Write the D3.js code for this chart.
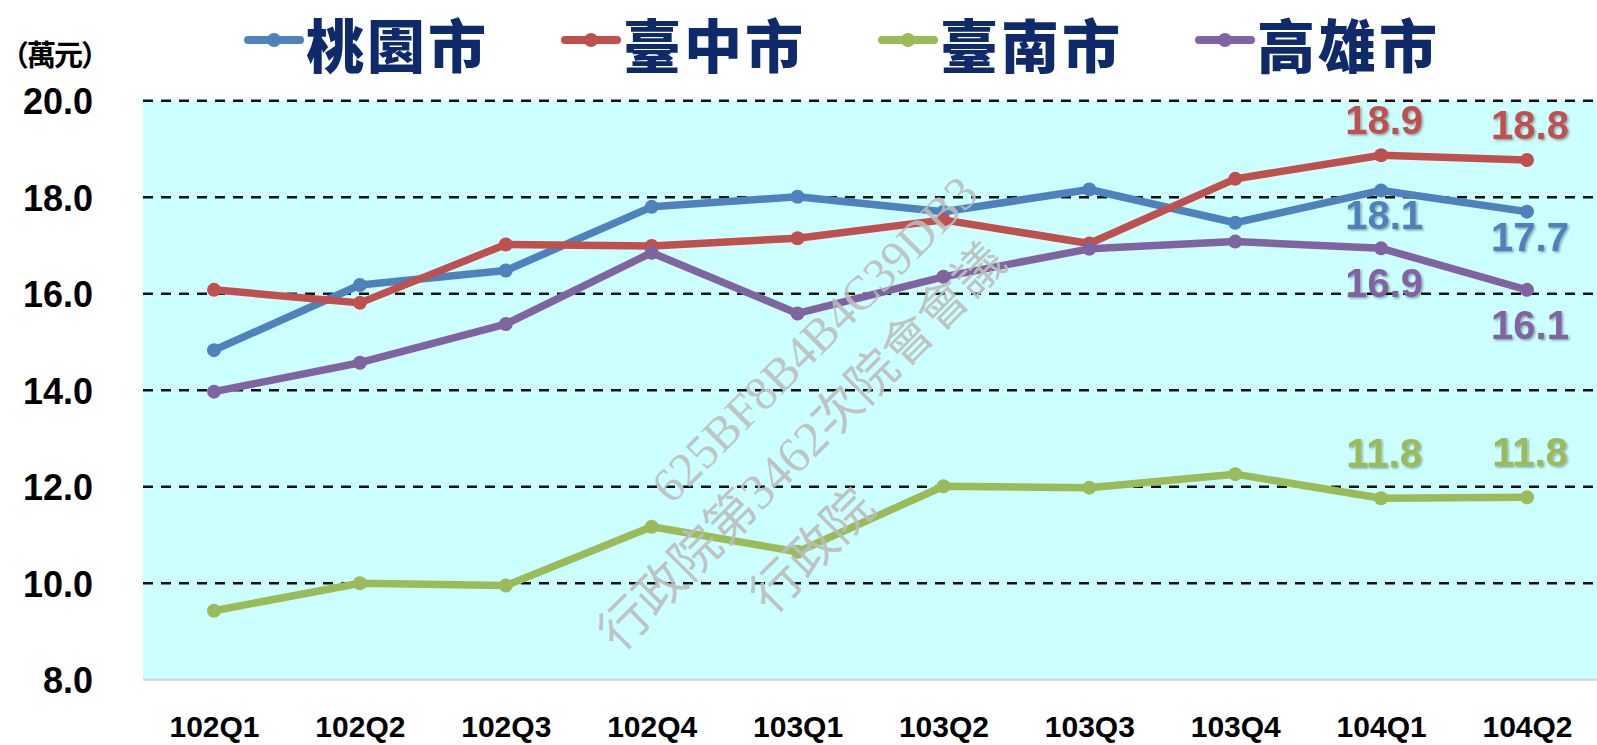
<!DOCTYPE html>
<html>
<head>
<meta charset="utf-8">
<script src="https://cdn.jsdelivr.net/npm/d3@7"></script>
<style>
  html, body { margin: 0; padding: 0; background: #ffffff; }
  #canvas { width: 1597px; height: 745px; }
</style>
</head>
<body>
<div id="canvas"></div>
<script>
"use strict"

/* Data */
let quarters = ["102Q1", "102Q2", "102Q3", "102Q4", "103Q1", "103Q2", "103Q3", "103Q4", "104Q1", "104Q2"];
let taoyuan   = [14.83, 16.18, 16.48, 17.80, 18.01, 17.70, 18.16, 17.47, 18.14, 17.70];
let taichung  = [16.08, 15.81, 17.02, 16.99, 17.15, 17.53, 17.04, 18.38, 18.87, 18.77];
let tainan    = [9.43, 10.00, 9.95, 11.17, 10.65, 12.01, 11.98, 12.26, 11.76, 11.78];
let kaohsiung = [13.97, 14.57, 15.37, 16.85, 15.59, 16.35, 16.93, 17.08, 16.94, 16.08];
let seriesNames = ["桃園市", "臺中市", "臺南市", "高雄市"];
let yTicks = [8, 10, 12, 14, 16, 18, 20];
let unitLabel = "（萬元）";
let watermarkLines = ["625BF8B4B4C39DB3", "行政院第3462次院會會議", "行政院"];

/* Configuration variables: drawing */
let svgWidth = 1597;
let svgHeight = 745;
let plotLeft = 143;
let plotTop = 100.7;
let plotBottom = 679.7;

let colors = ["#4f81bd", "#c0504d", "#9bbb59", "#8064a2"];
// vertical shift of the end labels (from point to label centre)
let labelShift = [25, -35, -45, 35];

let series = [taoyuan, taichung, tainan, kaohsiung].map(function (values, i) {
    return { name: seriesNames[i], values: values, color: colors[i], shift: labelShift[i] };
});

let svg = d3.select("#canvas")
    .append("svg")
    .attr("width", svgWidth)
    .attr("height", svgHeight)
    .style("font-family", "'Liberation Sans', Arial, sans-serif");

let defs = svg.append("defs");
let shadow = defs.append("filter")
    .attr("id", "shadow")
    .attr("x", "-20%").attr("y", "-20%")
    .attr("width", "140%").attr("height", "140%");
shadow.append("feDropShadow")
    .attr("dx", 1.5).attr("dy", 1.5)
    .attr("stdDeviation", 1)
    .attr("flood-color", "#000")
    .attr("flood-opacity", 0.35);

/* Scales */
let xScale = d3.scalePoint()
    .domain(quarters)
    .range([214, 1527]);

let yScale = d3.scaleLinear()
    .domain([8, 20])
    .range([plotBottom, plotTop]);

/* Plot background */
svg.append("rect")
    .attr("x", plotLeft)
    .attr("y", plotTop)
    .attr("width", svgWidth - plotLeft)
    .attr("height", plotBottom - plotTop)
    .attr("fill", "#ccffff");

// light bottom edge
svg.append("line")
    .attr("x1", plotLeft).attr("x2", svgWidth)
    .attr("y1", plotBottom).attr("y2", plotBottom)
    .attr("stroke", "#d4d4d4")
    .attr("stroke-width", 2);

/* Dashed gridlines */
svg.selectAll(".grid")
    .data(yTicks.filter(function (t) { return t > 8; }))
    .join("line")
    .attr("class", "grid")
    .attr("x1", plotLeft)
    .attr("x2", svgWidth)
    .attr("y1", function (d) { return yScale(d); })
    .attr("y2", function (d) { return yScale(d); })
    .attr("stroke", "#111")
    .attr("stroke-width", 2.6)
    .attr("stroke-dasharray", "10 8");

/* Y axis labels */
let yAxis = d3.axisLeft(yScale)
    .tickValues(yTicks)
    .tickFormat(d3.format(".1f"))
    .tickSize(0)
    .tickPadding(0);

let yAxisGroup = svg.append("g")
    .attr("transform", "translate(93,0)")
    .call(yAxis);
yAxisGroup.select(".domain").remove();
yAxisGroup.selectAll("text")
    .attr("font-family", "'Liberation Sans', Arial, sans-serif")
    .attr("font-size", 36)
    .attr("font-weight", "bold")
    .attr("fill", "#000")
    .attr("dy", 13);

/* X axis labels */
let xAxis = d3.axisBottom(xScale)
    .tickSize(0)
    .tickPadding(0);

let xAxisGroup = svg.append("g")
    .attr("transform", "translate(0,737)")
    .call(xAxis);
xAxisGroup.select(".domain").remove();
xAxisGroup.selectAll("text")
    .attr("font-family", "'Liberation Sans', Arial, sans-serif")
    .attr("font-size", 30)
    .attr("font-weight", "bold")
    .attr("fill", "#000")
    .attr("dy", 0)
    .attr("y", 0);

/* Unit label */
svg.append("text")
    .attr("x", 0)
    .attr("y", 66)
    .attr("font-family", "'Noto Sans CJK TC', sans-serif")
    .attr("font-weight", "bold")
    .attr("font-size", 29)
    .attr("letter-spacing", -2)
    .text(unitLabel);

/* Lines and points */
let line = d3.line()
    .x(function (d, i) { return xScale(quarters[i]); })
    .y(function (d) { return yScale(d); });

let seriesGroups = svg.selectAll(".series")
    .data(series)
    .join("g")
    .attr("class", "series");

seriesGroups.append("path")
    .attr("d", function (s) { return line(s.values); })
    .attr("fill", "none")
    .attr("stroke", function (s) { return s.color; })
    .attr("stroke-width", 7.5)
    .attr("stroke-linejoin", "round");

seriesGroups.selectAll("circle")
    .data(function (s) {
        return s.values.map(function (v, i) { return { q: quarters[i], v: v, color: s.color }; });
    })
    .join("circle")
    .attr("cx", function (d) { return xScale(d.q); })
    .attr("cy", function (d) { return yScale(d.v); })
    .attr("r", 7)
    .attr("fill", function (d) { return d.color; });

/* Value labels on the last two quarters */
seriesGroups.selectAll(".value")
    .data(function (s) {
        return s.values.slice(-2).map(function (v, i) {
            return { q: quarters[quarters.length - 2 + i], v: v, color: s.color, shift: s.shift };
        });
    })
    .join("text")
    .attr("class", "value")
    .attr("x", function (d) { return xScale(d.q) + 3; })
    .attr("y", function (d) { return yScale(d.v) + d.shift + 14; })
    .attr("text-anchor", "middle")
    .attr("font-size", 40)
    .attr("font-weight", "bold")
    .attr("fill", function (d) { return d.color; })
    .attr("filter", "url(#shadow)")
    .text(function (d) { return d3.format(".1f")(d.v); });

/* Legend */
let legendX = 245;
let legendSpacing = 317;

let legend = svg.selectAll(".legend")
    .data(series)
    .join("g")
    .attr("class", "legend")
    .attr("transform", function (s, i) { return "translate(" + (legendX + i * legendSpacing) + ",0)"; });

legend.append("line")
    .attr("x1", 3).attr("x2", 55)
    .attr("y1", 40).attr("y2", 40)
    .attr("stroke", function (s) { return s.color; })
    .attr("stroke-width", 8)
    .attr("stroke-linecap", "round");

legend.append("circle")
    .attr("cx", 29)
    .attr("cy", 40)
    .attr("r", 7)
    .attr("fill", function (s) { return s.color; });

legend.append("text")
    .attr("x", 61)
    .attr("y", 68)
    .attr("font-family", "'Noto Sans CJK TC', sans-serif")
    .attr("font-weight", 900)
    .attr("font-size", 58)
    .attr("letter-spacing", 3)
    .attr("fill", "#0f2a6b")
    .text(function (s) { return s.name; });

/* Watermark */
let watermark = svg.append("g")
    .attr("transform", "rotate(-45)")
    .attr("fill", "#bdbdbd")
    .attr("fill-opacity", 0.9)
    .attr("font-family", "'Liberation Serif', 'Noto Sans CJK TC', serif")
    .attr("text-anchor", "middle");

let wmAlong = [336, 251, 185];
let wmAcross = [832, 900, 981];
let wmSize = [48, 50, 50];
watermark.selectAll("text")
    .data(watermarkLines)
    .join("text")
    .attr("x", function (d, i) { return wmAlong[i]; })
    .attr("y", function (d, i) { return wmAcross[i]; })
    .attr("font-size", function (d, i) { return wmSize[i]; })
    .text(function (d) { return d; });
</script>
</body>
</html>
